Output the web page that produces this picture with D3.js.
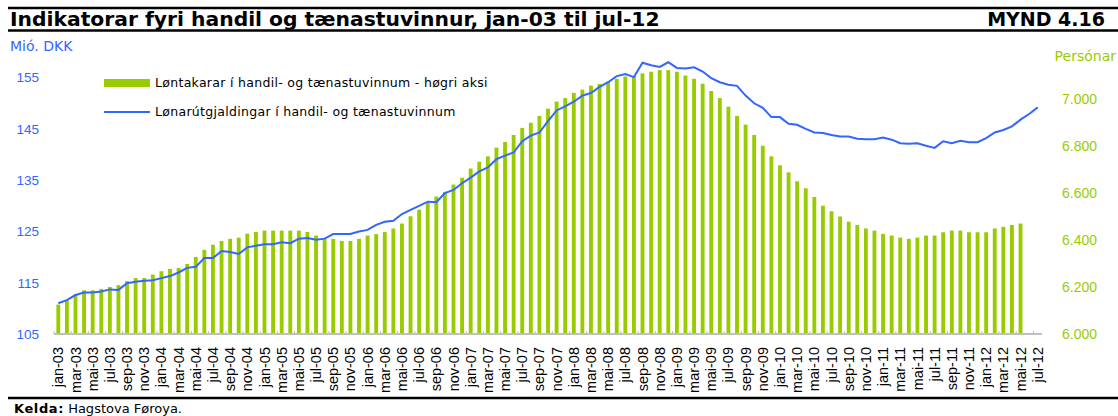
<!DOCTYPE html>
<html>
<head>
<meta charset="utf-8">
<script src="https://cdn.jsdelivr.net/npm/d3@7"></script>
<style>
    body { margin: 0; background: #fff; }
    svg { display: block; font-family: 'DejaVu Sans', Verdana, sans-serif; }
</style>
</head>
<body>
<div id="chart"></div>
<script>
// categories: jan-03 .. jul-12
const monthNames = ['jan', 'feb', 'mar', 'apr', 'mai', 'jun', 'jul', 'aug', 'sep', 'okt', 'nov', 'des'];
const years = ['03', '04', '05', '06', '07', '08', '09', '10', '11', '12'];
const categories = [];
years.forEach(y => monthNames.forEach(m => categories.push(m + '-' + y)));
categories.splice(categories.indexOf('jul-12') + 1);

// Løntakarar (persónar), jan-03 .. mai-12
const employees = [
    6125, 6144, 6168, 6186, 6186, 6192, 6200, 6208, 6225, 6238, 6238, 6253,
    6267, 6277, 6281, 6298, 6328, 6358, 6380, 6396, 6405, 6410, 6427, 6434,
    6440, 6440, 6440, 6440, 6440, 6434, 6419, 6405, 6405, 6396, 6396, 6405,
    6419, 6425, 6434, 6449, 6470, 6501, 6529, 6558, 6585, 6605, 6636, 6665,
    6704, 6733, 6756, 6793, 6817, 6847, 6877, 6899, 6928, 6959, 6989, 7004,
    7026, 7040, 7057, 7064, 7074, 7086, 7096, 7098, 7109, 7116, 7123, 7123,
    7116, 7100, 7086, 7065, 7034, 7004, 6967, 6928, 6891, 6847, 6801, 6756,
    6718, 6688, 6650, 6620, 6583, 6546, 6522, 6500, 6478, 6464, 6449, 6440,
    6426, 6419, 6410, 6405, 6410, 6419, 6419, 6433, 6440, 6440, 6433, 6433,
    6433, 6449, 6456, 6464, 6470
];

// Lønarútgjaldingar (mió. DKK), jan-03 .. jul-12
const wages = [
    111.0, 111.6, 112.6, 113.1, 113.1, 113.3, 113.7, 113.6, 114.9, 115.2, 115.4, 115.5,
    115.9, 116.3, 117.0, 117.9, 118.1, 119.8, 119.8, 121.2, 121.0, 120.6, 121.9, 122.2,
    122.5, 122.5, 122.9, 122.7, 123.6, 123.7, 123.4, 123.6, 124.5, 124.5, 124.5, 125.0,
    125.3, 126.3, 126.9, 127.1, 128.4, 129.2, 130.0, 130.8, 130.7, 132.5, 133.1, 134.4,
    135.5, 136.7, 137.5, 139.1, 139.8, 140.4, 142.6, 143.7, 144.3, 146.5, 148.6, 149.4,
    150.3, 151.5, 152.0, 153.2, 154.1, 155.3, 155.7, 155.1, 157.9, 157.4, 157.1, 158.0,
    156.9, 156.8, 157.0, 156.2, 154.9, 154.1, 153.6, 153.4, 151.5, 150.0, 149.1, 147.3,
    147.3, 146.0, 145.8, 145.0, 144.3, 144.2, 143.8, 143.5, 143.5, 143.1, 143.0, 143.0,
    143.3, 142.9, 142.2, 142.1, 142.2, 141.7, 141.3, 142.6, 142.2, 142.7, 142.4, 142.4,
    143.2, 144.3, 144.8, 145.5, 146.8, 147.9, 149.2
];

const leftTicks = [105, 115, 125, 135, 145, 155];
const rightTicks = [6000, 6200, 6400, 6600, 6800, 7000];

// set dimensions
const w = 1118;
const h = 416;
const x_left = 54;
const x_right = 1042;
const y_bottom = 334;
const y_top = 52;
const green = '#99cc00';
const blue = '#3366ff';

const svg = d3.select('#chart')
    .append('svg')
    .attr('width', w)
    .attr('height', h);

// scales
const x_scale = d3.scaleBand()
    .domain(categories)
    .range([x_left, x_right]);

const y_left = d3.scaleLinear()
    .domain([105, 160])
    .range([y_bottom, y_top]);

const y_right = d3.scaleLinear()
    .domain([6000, 7200])
    .range([y_bottom, y_top]);

// header and footer rules
[8, 30.5, 398].forEach(y => {
    svg.append('line')
        .attr('x1', 8).attr('x2', w)
        .attr('y1', y).attr('y2', y)
        .attr('stroke', '#000')
        .attr('stroke-width', 2.5);
});

svg.append('text')
    .attr('x', 10).attr('y', 26)
    .attr('font-size', 20.3)
    .attr('font-weight', 'bold')
    .text('Indikatorar fyri handil og tænastuvinnur, jan-03 til jul-12');

svg.append('text')
    .attr('x', 1105).attr('y', 26)
    .attr('text-anchor', 'end')
    .attr('font-size', 19)
    .attr('font-weight', 'bold')
    .text('MYND 4.16');

// axis titles
svg.append('text')
    .attr('x', 10).attr('y', 51)
    .attr('font-size', 14)
    .attr('fill', blue)
    .text('Mió. DKK');

svg.append('text')
    .attr('x', 1116).attr('y', 61)
    .attr('text-anchor', 'end')
    .attr('font-size', 14)
    .attr('fill', green)
    .text('Persónar');

// bars
const barWidth = x_scale.bandwidth() * 0.45;
svg.append('g')
    .selectAll('rect')
    .data(employees)
    .enter()
    .append('rect')
    .attr('x', (d, i) => x_scale(categories[i]) + (x_scale.bandwidth() - barWidth) / 2)
    .attr('y', d => y_right(d))
    .attr('width', barWidth)
    .attr('height', d => y_bottom - y_right(d))
    .attr('fill', green);

// line
const line = d3.line()
    .x((d, i) => x_scale(categories[i]) + x_scale.bandwidth() / 2)
    .y(d => y_left(d));

svg.append('path')
    .datum(wages)
    .attr('d', line)
    .attr('fill', 'none')
    .attr('stroke', blue)
    .attr('stroke-width', 2);

// x axis
const x_axis = d3.axisBottom(x_scale)
    .tickValues(categories.filter((c, i) => i % 2 === 0))
    .tickSize(0)
    .tickPadding(0);

const gx = svg.append('g')
    .attr('id', 'x-axis')
    .attr('transform', `translate(0, ${y_bottom})`)
    .call(x_axis);

gx.select('.domain')
    .attr('stroke', '#bfbfbf')
    .attr('stroke-width', 2)
    .attr('d', `M${x_left},0H${x_right}`);

gx.selectAll('.tick text')
    .attr('font-family', null)
    .attr('font-size', 14.5)
    .attr('fill', '#000')
    .attr('transform', 'rotate(-90)')
    .attr('text-anchor', 'end')
    .attr('x', -13)
    .attr('y', 0)
    .attr('dy', '0.35em');

// small category ticks every second month
svg.append('g')
    .selectAll('line')
    .data(categories.filter((c, i) => i % 2 === 0))
    .enter()
    .append('line')
    .attr('x1', d => x_scale(d)).attr('x2', d => x_scale(d))
    .attr('y1', y_bottom - 3).attr('y2', y_bottom)
    .attr('stroke', '#bfbfbf')
    .attr('stroke-width', 1);

// left axis
const gl = svg.append('g')
    .attr('id', 'y-axis-left')
    .attr('transform', `translate(${x_left}, 0)`)
    .call(d3.axisLeft(y_left).tickValues(leftTicks).tickSize(0).tickPadding(15));
gl.select('.domain').remove();
gl.selectAll('text')
    .attr('font-family', null)
    .attr('font-size', 13.5)
    .attr('fill', blue);

// right axis
const gr = svg.append('g')
    .attr('id', 'y-axis-right')
    .attr('transform', `translate(${x_right}, 0)`)
    .call(d3.axisRight(y_right)
        .tickValues(rightTicks)
        .tickSize(0)
        .tickPadding(20)
        .tickFormat(d => d3.format(',')(d).replace(',', '.')));
gr.select('.domain').remove();
gr.selectAll('text')
    .attr('font-family', null)
    .attr('font-size', 14)
    .attr('fill', green);

// legend
const legend = svg.append('g')
    .attr('font-size', 12.5)
    .attr('letter-spacing', 0.3);
legend.append('rect')
    .attr('x', 104).attr('y', 79)
    .attr('width', 46).attr('height', 8)
    .attr('fill', green);
legend.append('text')
    .attr('x', 155).attr('y', 87)
    .text('Løntakarar í handil- og tænastuvinnum - høgri aksi');
legend.append('line')
    .attr('x1', 104).attr('x2', 150)
    .attr('y1', 112).attr('y2', 112)
    .attr('stroke', blue)
    .attr('stroke-width', 2);
legend.append('text')
    .attr('x', 155).attr('y', 116)
    .text('Lønarútgjaldingar í handil- og tænastuvinnum');

// source
const src = svg.append('text')
    .attr('x', 14).attr('y', 413)
    .attr('font-size', 13);
src.append('tspan').attr('font-weight', 'bold').attr('letter-spacing', 0.6).text('Kelda:');
src.append('tspan').text(' Hagstova Føroya.');
</script>
</body>
</html>
